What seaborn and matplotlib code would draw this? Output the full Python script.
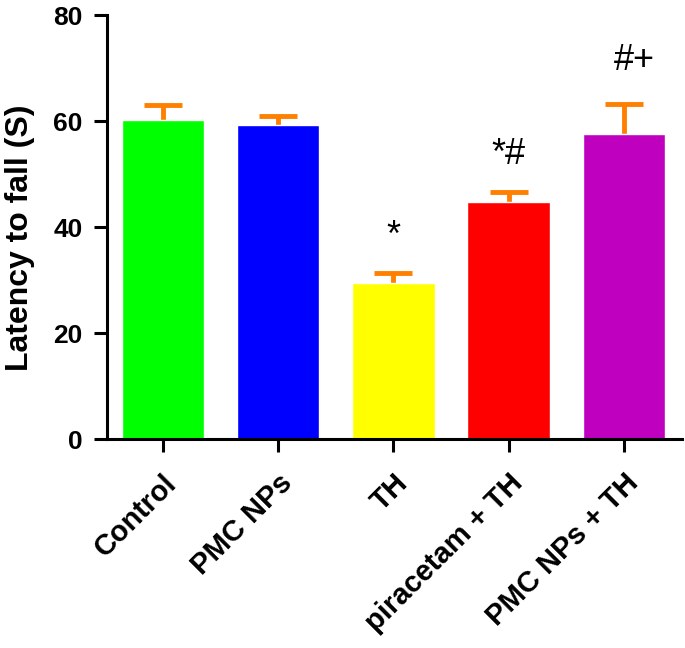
import numpy as np
import pandas as pd
import seaborn as sns
import matplotlib.pyplot as plt
from matplotlib.transforms import ScaledTranslation

# Werte aus der Abbildung
groups = ["Control", "PMC NPs", "TH", "piracetam + TH", "PMC NPs + TH"]
latency = [60.2, 59.3, 29.4, 44.8, 57.5]
sem = [2.9, 1.7, 1.9, 1.9, 5.7]
marks = ["", "", "*", "*#", "#+"]
colors = ["#00FF00", "#0000FF", "#FFFF00", "#FF0000", "#BF00BF"]

if __name__ == "__main__":
    sns.set_style("ticks")
    plt.rcParams["font.family"] = ["Liberation Sans", "DejaVu Sans"]
    plt.rcParams["text.color"] = "black"
    plt.rcParams["xtick.color"] = "black"
    plt.rcParams["ytick.color"] = "black"
    plt.rcParams["axes.labelcolor"] = "black"

    df = pd.DataFrame({"group": groups, "latency": latency})

    fig = plt.figure(figsize=(6.85, 6.48), dpi=100)
    ax = fig.add_axes([0.156, 0.3225, 0.839, 0.654])

    # Fehlerbalken: untere Hälfte liegt hinter den Balken
    ax.errorbar(np.arange(len(groups)), latency, yerr=sem,
                fmt="none", ecolor="#FF8000", elinewidth=3.5, capsize=13.5,
                capthick=3.5, zorder=1)
    sns.barplot(data=df, x="group", y="latency", hue="group", palette=colors,
                width=0.716, saturation=1, legend=False, ax=ax, zorder=2)

    # Signifikanzzeichen
    for i, (m, v, e) in enumerate(zip(marks, latency, sem)):
        if m:
            dx, off = (0.09, 6.5) if "+" in m else (0, 5.2)
            ax.text(i + dx, v + e + off, m, ha="center", va="baseline",
                    fontsize=26)

    ax.set_xlim(-0.485, 4.5)
    ax.set_ylim(0, 80)
    ax.set_yticks([0, 20, 40, 60, 80])
    ax.set_xlabel("")
    ax.set_ylabel("Latency to fall (S)", fontsize=23, fontweight="bold")
    ax.yaxis.set_label_coords(-0.125, 0.474)
    ax.set_xticks(range(len(groups)))
    ax.set_xticklabels(groups, rotation=45, ha="right", rotation_mode="anchor",
                       fontsize=21, fontweight="bold")
    shift = ScaledTranslation(0.04, 0, fig.dpi_scale_trans)
    for lab in ax.get_xticklabels():
        lab.set_transform(lab.get_transform() + shift)
    for lab in ax.get_yticklabels():
        lab.set_fontweight("bold")
        lab.set_fontsize(19)
    ax.tick_params(width=2.2, length=9.5)
    ax.tick_params(axis="y", pad=8)
    ax.tick_params(axis="x", pad=12)
    for s in ["left", "bottom"]:
        ax.spines[s].set_linewidth(2.2)
        ax.spines[s].set_color("black")
    sns.despine(ax=ax)

    fig.savefig("out.png", dpi=100)
